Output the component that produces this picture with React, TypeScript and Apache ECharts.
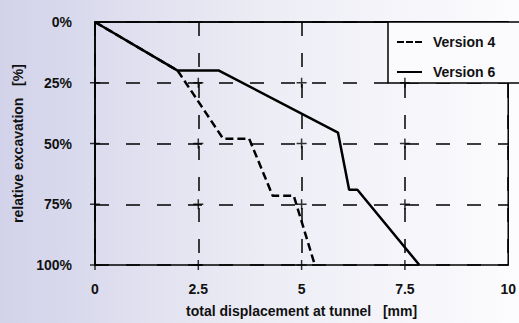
import React, { useEffect, useRef } from "react";
import * as echarts from "echarts";

const xTicks = [0, 2.5, 5, 7.5, 10];
const yTicks = [0, 25, 50, 75, 100];
const version4X = [0, 2.0, 3.1, 3.73, 4.3, 4.81, 5.32];
const version4Y = [0, 20, 48, 48, 71.5, 71.5, 100];
const version6X = [0, 2.0, 3.0, 5.88, 6.15, 6.35, 7.85];
const version6Y = [0, 20, 20, 45.5, 69, 69, 100];
const crossX = [0, 2.5, 5, 7.5];
const crossY = [25, 50, 75, 100];
const seriesNames = ["Version 4", "Version 6"];

const FONT = "'Liberation Sans', Arial, sans-serif";

const ANCHORS = "M0,0h0.05v0.05h-0.05zM24.95,11.95h0.05v0.05h-0.05z";
const DASHED_ICON = "path://" + ANCHORS + "M0,5h7v2h-7zM9,5h7v2h-7zM18,5h7v2h-7z";
const SOLID_ICON = "path://" + ANCHORS + "M0,5h25v2h-25z";

export default function App() {
  const ref = useRef<HTMLDivElement>(null);
  useEffect(() => {
    document.body.style.margin = "0";
    const chart = echarts.init(ref.current!, null, { renderer: "svg" });
    const crosses: number[][] = [];
    crossX.forEach((x) => crossY.forEach((y) => crosses.push([x, y])));
    chart.setOption({
      animation: false,
      backgroundColor: new echarts.graphic.LinearGradient(0, 0, 1, 0, [
        { offset: 0, color: "#d2d2ea" },
        { offset: 0.5, color: "#ececf5" },
        { offset: 1, color: "#fcfcfe" },
      ]),
      grid: {
        left: 95,
        right: 2,
        top: 22,
        bottom: 57,
        show: true,
        borderColor: "#000",
        borderWidth: 1.5,
        backgroundColor: "transparent",
      },
      legend: {
        data: [
          { name: seriesNames[0], icon: DASHED_ICON },
          { name: seriesNames[1], icon: SOLID_ICON },
        ],
        left: 388,
        top: 22,
        orient: "vertical",
        padding: [12, 37, 3, 9],
        itemGap: 14,
        itemWidth: 25,
        itemHeight: 12,
        borderColor: "#000",
        borderWidth: 1.5,
        backgroundColor: "#fbfbfd",
        itemStyle: { color: "#000", borderWidth: 0 },
        textStyle: {
          fontFamily: FONT,
          fontWeight: "bold",
          fontSize: 14,
          lineHeight: 16,
          color: "#111",
          padding: [0, 0, 0, 6],
        },
      },
      xAxis: {
        type: "value",
        min: 0,
        max: 10,
        interval: 2.5,
        name: "total displacement at tunnel\u00a0\u00a0\u00a0[mm]",
        nameLocation: "middle",
        nameGap: 39,
        nameTextStyle: { fontFamily: FONT, fontWeight: "bold", fontSize: 14, color: "#111" },
        axisLine: { show: true, lineStyle: { color: "#000", width: 1.5 } },
        axisTick: { show: false },
        axisLabel: {
          fontFamily: FONT,
          fontWeight: "bold",
          fontSize: 14,
          color: "#111",
          margin: 17,
          alignMaxLabel: "center",
          alignMinLabel: "center",
          formatter: (v: number) => String(v),
        },
        splitLine: { show: true, lineStyle: { color: "#000", width: 1.5, type: [14, 17] } },
      },
      yAxis: {
        type: "value",
        inverse: true,
        min: 0,
        max: 100,
        interval: 25,
        name: "relative excavation\u00a0\u00a0\u00a0[%]",
        nameLocation: "middle",
        nameGap: 67,
        nameRotate: 90,
        nameTextStyle: { fontFamily: FONT, fontWeight: "bold", fontSize: 14, color: "#111" },
        axisLine: { show: true, lineStyle: { color: "#000", width: 1.5 } },
        axisTick: { show: false },
        axisLabel: {
          fontFamily: FONT,
          fontWeight: "bold",
          fontSize: 14,
          color: "#111",
          margin: 23,
          formatter: "{value}%",
        },
        splitLine: { show: true, lineStyle: { color: "#000", width: 1.5, type: [14, 17] } },
      },
      series: [
        {
          name: seriesNames[0],
          type: "line",
          symbol: "none",
          data: version4X.map((x, i) => [x, version4Y[i]]),
          lineStyle: { color: "#000", width: 2.5, type: [8, 4] },
          itemStyle: { color: "#000" },
          z: 5,
        },
        {
          name: seriesNames[1],
          type: "line",
          symbol: "none",
          data: version6X.map((x, i) => [x, version6Y[i]]),
          lineStyle: { color: "#000", width: 2.5, type: "solid" },
          itemStyle: { color: "#000" },
          z: 5,
        },
        {
          name: "crosses",
          type: "scatter",
          symbol: "path://M4.25,0H5.75V4.25H10V5.75H5.75V10H4.25V5.75H0V4.25H4.25Z",
          symbolSize: 10,
          data: crosses,
          itemStyle: { color: "#000" },
          silent: true,
          z: 4,
        },
      ],
    });
    return () => chart.dispose();
  }, []);
  return (
    <div
      ref={ref}
      style={{ position: "absolute", left: 0, top: 0, width: 519, height: 323 }}
    />
  );
}
